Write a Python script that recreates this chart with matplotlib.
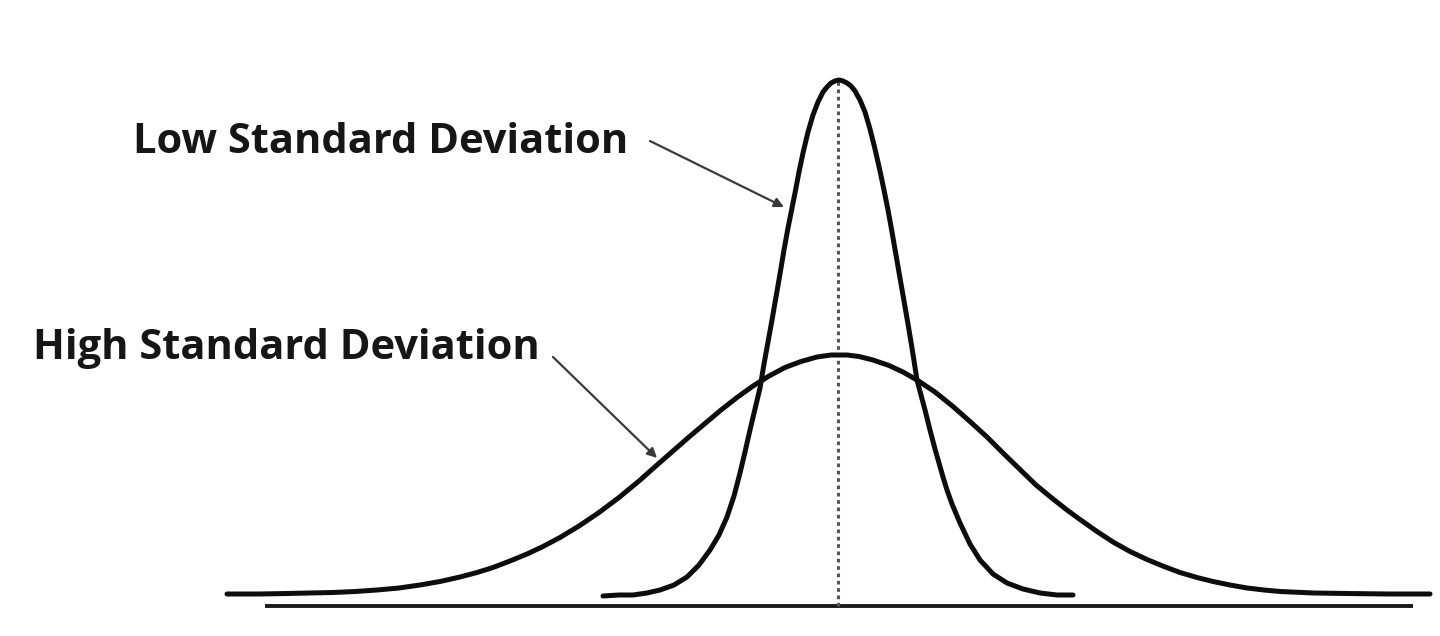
import matplotlib
matplotlib.use("Agg")
import matplotlib.pyplot as plt

# Coordinates: x = horizontal offset from the centre line, y = height above the curves' base level
# (in pixel-like units)

# Narrow curve (low standard deviation)
low_x = [-236, -220, -206, -192, -179, -165, -152, -140, -129, -120, -112, -105, -99, -94, -89, -84, -79,
         -75, -71, -67, -63, -59, -55, -51, -47, -44, -40, -36, -31, -26, -21, -16, -12, -8, -4, 0,
         4, 8, 12, 16, 21, 26, 31, 36, 41, 45, 49, 53, 57, 61, 65, 69, 73, 78,
         82, 86, 91, 96, 100, 104, 108, 113, 121, 131, 141, 154, 168, 184, 201, 218, 234]
low_y = [0, 1, 1, 3, 6, 11, 19, 31, 46, 61, 79, 100, 123, 144, 166, 187, 208,
         232, 254, 276, 299, 322, 346, 368, 388, 403, 424, 443, 464, 481, 494, 504, 509, 513, 515, 516,
         515, 513, 510, 505, 496, 484, 467, 447, 425, 406, 386, 364, 341, 318, 295, 272, 248, 216,
         201, 186, 166, 147, 133, 119, 106, 92, 73, 52, 36, 22, 13, 7, 3, 1, 1]

# Wide curve (high standard deviation)
high_x = [-612, -580, -552, -530, -506, -484, -462, -440, -419, -399, -379, -362, -346, -329, -312, -296,
          -279, -260, -240, -220, -200, -182, -166, -150, -134, -118, -102, -86, -70, -54, -38, -22, -8, 0,
          8, 20, 34, 50, 64, 78, 96, 114, 131, 148, 164, 181, 197, 214, 228, 241, 258, 274, 291, 308,
          325, 341, 358, 374, 391, 408, 425, 441, 475, 508, 550, 591]
high_y = [2, 2, 2.5, 3, 3.5, 4.5, 6, 8, 11, 14.5, 19, 23.5, 28.5, 35, 42, 49.5,
          58.5, 70, 83.5, 98.5, 115, 131, 145, 159, 172.5, 186, 198.5, 210, 220, 228.5, 234.5, 239, 241, 241,
          241, 239.5, 236, 230.5, 224, 216, 204, 189.5, 174.5, 159, 143, 126.5, 111, 97, 86, 76.5, 64.5, 54, 44.5, 36.5,
          29.5, 23.5, 18.5, 14.5, 11, 8, 6, 4.5, 3, 2.5, 2, 2]

# Horizontal axis line and mean line
axis_x = [-574, 574]
axis_y = [-10, -10]
mean_x = [-1, -1]
mean_y = [-10, 516]

labels = ["Low Standard Deviation", "High Standard Deviation"]
label_xy = [(-706, 443), (-806, 237)]
arrow_from = [(-189, 455), (-286, 239)]
arrow_to = [(-55, 389), (-182, 138)]

fig = plt.figure(figsize=(14.4, 6.36), dpi=100)
ax = fig.add_axes([0, 0, 1, 1])
ax.set_xlim(-839, 601)
ax.set_ylim(-40, 596)
ax.axis("off")

ax.plot(axis_x, axis_y, color="#1a1a1a", lw=2.8, solid_capstyle="butt")
ax.plot(mean_x, mean_y, color="#555555", lw=2.2, linestyle=(0, (1.2, 1.2)))
ax.plot(high_x, high_y, color="#0d0d0d", lw=3.6, solid_capstyle="round", solid_joinstyle="round")
ax.plot(low_x, low_y, color="#0d0d0d", lw=3.6, solid_capstyle="round", solid_joinstyle="round")

for lab, (tx, ty) in zip(labels, label_xy):
    ax.text(tx, ty, lab, family=["Open Sans", "DejaVu Sans"], fontweight="bold", fontsize=30,
            color="#161616", ha="left", va="baseline")

for (sx, sy), (ex, ey) in zip(arrow_from, arrow_to):
    ax.annotate("", xy=(ex, ey), xytext=(sx, sy),
                arrowprops=dict(arrowstyle="-|>", color="#3a3a3a", lw=1.6,
                                mutation_scale=14, shrinkA=0, shrinkB=0))

fig.savefig("out.png", dpi=100, facecolor="white")
